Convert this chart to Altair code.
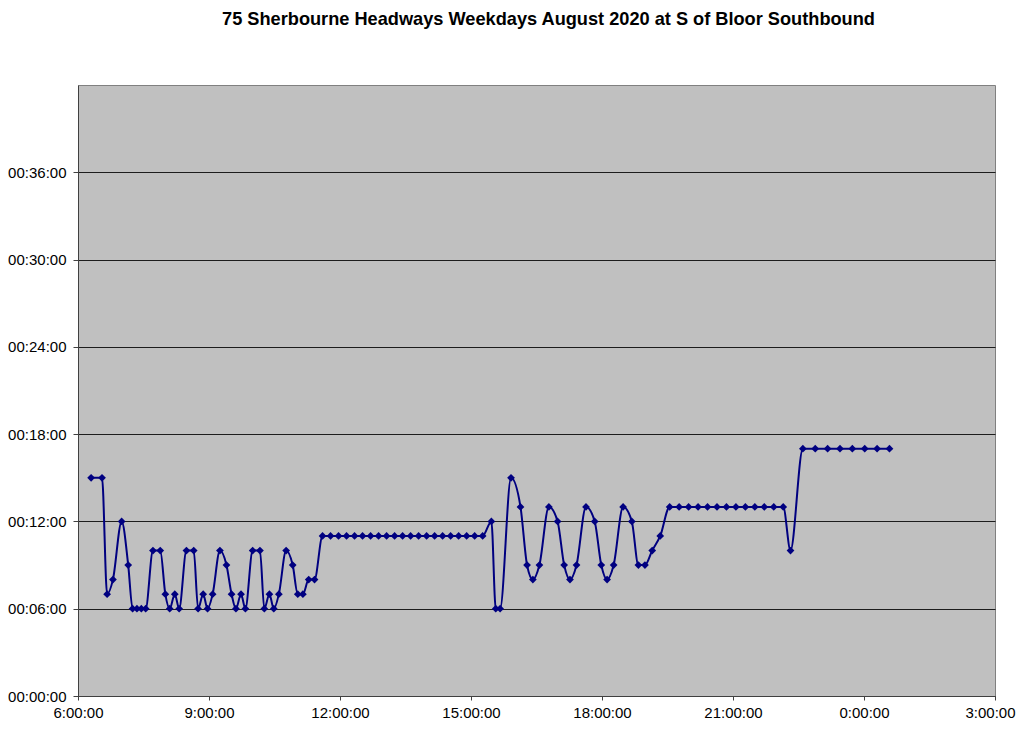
import altair as alt
import pandas as pd

# Bus departure times (clock) and headway in minutes
times = [
    "06:18", "06:33", "06:40", "06:48", "07:00", "07:09", "07:15", "07:21", "07:27", "07:33",
    "07:43", "07:53", "08:00", "08:06", "08:13", "08:19", "08:29", "08:39", "08:45", "08:52",
    "08:58", "09:05", "09:15", "09:24", "09:31", "09:37", "09:44", "09:50", "10:00", "10:10",
    "10:16", "10:23", "10:29", "10:36", "10:46", "10:55", "11:02", "11:09", "11:17", "11:25",
    "11:36", "11:47", "11:58", "12:09", "12:20", "12:31", "12:42", "12:53", "13:04", "13:15",
    "13:26", "13:37", "13:48", "13:59", "14:10", "14:21", "14:32", "14:43", "14:54", "15:05",
    "15:16", "15:28", "15:34", "15:40", "15:55", "16:08", "16:17", "16:25", "16:34", "16:47",
    "16:59", "17:08", "17:16", "17:25", "17:38", "17:50", "17:59", "18:07", "18:16", "18:29",
    "18:41", "18:50", "18:59", "19:09", "19:20", "19:33", "19:46", "19:59", "20:12", "20:25",
    "20:38", "20:51", "21:04", "21:17", "21:30", "21:43", "21:56", "22:09", "22:19", "22:36",
    "22:53", "23:10", "23:27", "23:44", "00:01", "00:18", "00:35",
]
headways = [
    15, 15, 7, 8, 12, 9, 6, 6, 6, 6,
    10, 10, 7, 6, 7, 6, 10, 10, 6, 7,
    6, 7, 10, 9, 7, 6, 7, 6, 10, 10,
    6, 7, 6, 7, 10, 9, 7, 7, 8, 8,
    11, 11, 11, 11, 11, 11, 11, 11, 11, 11,
    11, 11, 11, 11, 11, 11, 11, 11, 11, 11,
    11, 12, 6, 6, 15, 13, 9, 8, 9, 13,
    12, 9, 8, 9, 13, 12, 9, 8, 9, 13,
    12, 9, 9, 10, 11, 13, 13, 13, 13, 13,
    13, 13, 13, 13, 13, 13, 13, 13, 10, 17,
    17, 17, 17, 17, 17, 17, 17,
]

x_ticks = [6, 9, 12, 15, 18, 21, 24, 27]
y_ticks = [0, 6, 12, 18, 24, 30, 36]


def to_hours(s):
    h, m = s.split(":")
    h = int(h)
    if h < 6:
        h += 24
    return h + int(m) / 60.0


df = pd.DataFrame({"t": [to_hours(s) for s in times], "h": headways, "order": range(len(times))})

FONT = "Liberation Sans"
NAVY = "#000080"

x = alt.X(
    "t:Q",
    scale=alt.Scale(domain=[6, 27], nice=False, zero=False),
    axis=alt.Axis(
        values=x_ticks,
        labelExpr="(datum.value % 24) + ':00:00'",
        title=None,
        grid=False,
        domainColor="#404040",
        tickColor="#404040",
        tickSize=4,
        labelPadding=5,
        labelFont=FONT,
        labelFontSize=15,
        labelColor="#000000",
        labelFlush=False,
        labelOverlap=False,
        labelOffset={"condition": {"test": "datum.value == 27", "value": -5}, "value": 0},
    ),
)
y = alt.Y(
    "h:Q",
    scale=alt.Scale(domain=[0, 42], nice=False),
    axis=alt.Axis(
        values=y_ticks,
        labelExpr="'00:' + (datum.value < 10 ? '0' : '') + datum.value + ':00'",
        title=None,
        grid=True,
        gridColor="#000000",
        gridOpacity=0.85,
        gridWidth=1,
        domainColor="#404040",
        tickColor="#404040",
        tickSize=5,
        labelPadding=7,
        labelFont=FONT,
        labelFontSize=15,
        labelColor="#000000",
        labelOverlap=False,
    ),
)

base = alt.Chart(df).encode(x=x, y=y, order="order:Q")
line = base.mark_line(color=NAVY, strokeWidth=2, interpolate="monotone")
pts = base.mark_point(shape="diamond", filled=True, color=NAVY, size=60, opacity=1)

chart = (
    (line + pts)
    .properties(
        width=917,
        height=611,
        title=alt.TitleParams(
            "75 Sherbourne Headways Weekdays August 2020 at S of Bloor Southbound",
            font=FONT,
            fontSize=18.2,
            fontWeight="bold",
            color="#000000",
            anchor="middle",
            baseline="alphabetic",
            offset=42,
            dx=12,
        ),
        autosize=alt.AutoSizeParams(type="none"),
        padding={"left": 70, "top": 77, "right": 21, "bottom": 27},
        background="#ffffff",
    )
    .configure_view(fill="#c0c0c0", stroke="#808080", strokeWidth=1)
)

chart.save("out.html", embed_options={"renderer": "svg", "actions": False})
